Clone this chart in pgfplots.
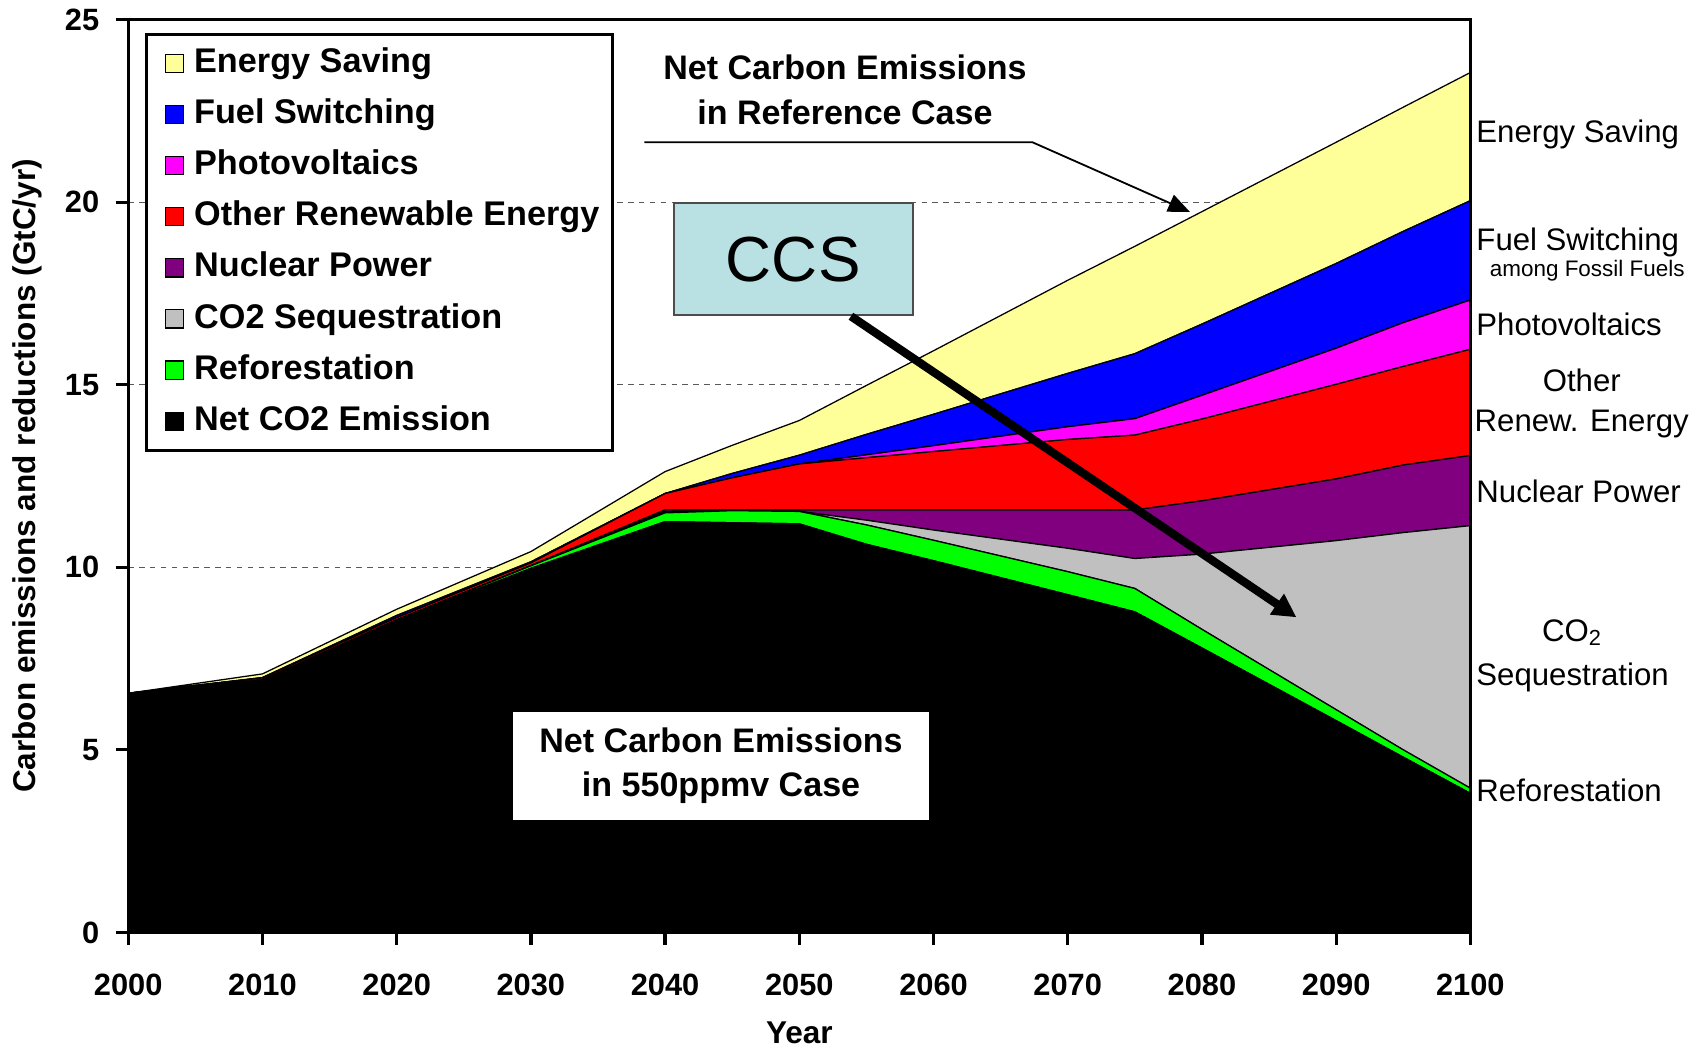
\documentclass[border=0pt]{standalone}
\usepackage{fontspec}
\setmainfont{Liberation Sans}
\usepackage{pgfplots}
\usepackage{pgfplotstable}
\pgfplotsset{compat=1.18}
\usetikzlibrary{arrows.meta}

\definecolor{esave}{RGB}{255,255,153}
\definecolor{fuel}{RGB}{0,0,255}
\definecolor{pv}{RGB}{255,0,255}
\definecolor{ren}{RGB}{255,0,0}
\definecolor{nuc}{RGB}{128,0,128}
\definecolor{seq}{RGB}{192,192,192}
\definecolor{refor}{RGB}{0,255,0}
\definecolor{ccsbox}{RGB}{185,224,227}

% layer thicknesses, GtC/yr, bottom layer first
\pgfplotstableread{
year  black refor seq  nuc  ren  pv   fuel save
2000  6.55  0     0    0    0    0    0    0
2010  6.87  0.01  0    0.04 0.05 0    0.01 0.10
2020  8.53  0.02  0    0.01 0.06 0    0.06 0.17
2030  9.97  0.07  0    0.01 0.07 0    0.03 0.28
2040  11.25 0.24  0.03 0.05 0.45 0    0    0.60
2045  11.22 0.33  0.01 0.01 0.88 0    0.12 0.77
2050  11.19 0.34  0    0.04 1.26 0    0.24 0.95
2055  10.63 0.53  0.13 0.28 1.43 0.08 0.56 1.34
2060  10.18 0.56  0.28 0.55 1.60 0.16 0.86 1.74
2070  9.25  0.63  0.64 1.05 1.93 0.35 1.46 2.55
2075  8.78  0.64  0.82 1.33 2.05 0.45 1.78 2.94
2080  7.79  0.51  2.06 1.46 2.24 0.65 1.95 3.08
2090  5.80  0.30  4.63 1.69 2.59 0.99 2.32 3.32
2095  4.80  0.20  5.95 1.85 2.70 1.20 2.50 3.40
2100  3.81  0.14  7.19 1.92 2.91 1.35 2.72 3.51
}\emissions

\tikzset{
  rlab/.style={font=\fontsize{8.6}{10}\selectfont, anchor=base west, inner sep=0pt},
  layer/.style={draw=black, line width=0.35pt, fill=#1},
}
\pgfplotsset{
  frame/.style={scale only axis, width=370.5pt, height=252pt,
    xmin=2000, xmax=2100, ymin=0, ymax=25},
}

\begin{document}
\begin{tikzpicture}
\begin{axis}[
  name=ax,
  frame,
  xtick={2000,2010,...,2100},
  ytick={0,5,...,25},
  xtick pos=bottom, ytick pos=left,
  stack plots=y,
  clip=false,
  tick align=outside,
  major tick length=3.5pt,
  tick style={black, line width=0.9pt},
  axis line style={line width=0.9pt},
  ymajorgrids,
  grid style={black!65, dash pattern=on 1.5pt off 1.5pt, line width=0.35pt},
  /pgf/number format/assume math mode=true,
  /pgf/number format/1000 sep={},
  ticklabel style={font=\fontsize{8.5}{10}\selectfont\bfseries},
  xticklabel style={yshift=-4.5pt},
  yticklabel style={xshift=-1pt},
  xlabel={Year},
  ylabel={Carbon emissions and reductions (GtC/yr)},
  label style={font=\fontsize{8.7}{10}\selectfont\bfseries},
  xlabel style={at={(axis description cs:0.5,-0.1095)}, anchor=center},
  ylabel style={at={(axis description cs:-0.0753,0.5)}, anchor=center},
  reverse legend,
  legend cell align=left,
  legend image code/.code={\path (0pt,0pt);
    \draw[#1, draw=black, line width=0.3pt] (2.1pt,-2.5pt) rectangle (7.1pt,2.5pt);
    \path (9.3pt,0pt);},
  legend style={at={(0.01215,0.9857)}, anchor=north west, draw=black, line width=0.9pt,
    font=\fontsize{9.45}{11}\selectfont\bfseries, inner xsep=3pt, inner ysep=3pt,
    row sep=3.9pt, column sep=0pt,
    nodes={inner sep=0.6pt, text height=7pt, text depth=2pt}},
]
\addplot[layer=black] table[x=year, y=black] {\emissions} \closedcycle;
\addlegendentry{Net CO2 Emission}
\addplot[layer=refor] table[x=year, y=refor] {\emissions} \closedcycle;
\addlegendentry{Reforestation}
\addplot[layer=seq] table[x=year, y=seq] {\emissions} \closedcycle;
\addlegendentry{CO2 Sequestration}
\addplot[layer=nuc] table[x=year, y=nuc] {\emissions} \closedcycle;
\addlegendentry{Nuclear Power}
\addplot[layer=ren] table[x=year, y=ren] {\emissions} \closedcycle;
\addlegendentry{Other Renewable Energy}
\addplot[layer=pv] table[x=year, y=pv] {\emissions} \closedcycle;
\addlegendentry{Photovoltaics}
\addplot[layer=fuel] table[x=year, y=fuel] {\emissions} \closedcycle;
\addlegendentry{Fuel Switching}
\addplot[layer=esave] table[x=year, y=save] {\emissions} \closedcycle;
\addlegendentry{Energy Saving}
\end{axis}

% overlay axis for the frame and the annotations, drawn above the areas
\begin{axis}[frame, at={(ax.south west)}, anchor=south west, hide axis, clip=false]
\draw[line width=0.9pt] (rel axis cs:0,0) rectangle (rel axis cs:1,1);

% reference case callout
\node[font=\fontsize{9.4}{12.3}\selectfont\bfseries, align=center] at (axis cs:2053.4,23.08)
  {Net Carbon Emissions\\in Reference Case};
\draw[line width=0.5pt, -{Triangle[length=6pt,width=5pt]}]
  (axis cs:2038.46,21.64) -- (axis cs:2067.37,21.64) -- (axis cs:2079.11,19.73);

% CCS box and arrow
\draw[fill=ccsbox, draw=black!70, line width=0.5pt] (axis cs:2040.65,16.9) rectangle (axis cs:2058.46,19.97);
\node[font=\fontsize{17.6}{20}\selectfont] at (axis cs:2049.55,18.42) {CCS};
\draw[line width=2.3pt, -{Triangle[length=6.5pt,width=6.5pt]}]
  (axis cs:2053.85,16.875) -- (axis cs:2087.04,8.63);

% 550 ppmv box
\fill[white] (axis cs:2028.66,3.07) rectangle (axis cs:2059.68,6.04);
\node[font=\fontsize{9.4}{12.3}\selectfont\bfseries, align=center] at (axis cs:2044.17,4.57)
  {Net Carbon Emissions\\in 550ppmv Case};

% labels to the right of the chart
\node[rlab] at (axis cs:2100.4,21.63) {Energy Saving};
\node[rlab] at (axis cs:2100.4,18.68) {Fuel Switching};
\node[rlab, font=\fontsize{6.2}{7}\selectfont] at (axis cs:2101.4,17.96) {among Fossil Fuels};
\node[rlab] at (axis cs:2100.4,16.36) {Photovoltaics};
\node[rlab, anchor=base] at (axis cs:2108.3,14.81) {Other};
\node[rlab, anchor=base] at (axis cs:2108.3,13.71) {Renew. Energy};
\node[rlab] at (axis cs:2100.4,11.78) {Nuclear Power};
\node[rlab, anchor=base] at (axis cs:2107.6,7.97) {CO\textsubscript{2}};
\node[rlab] at (axis cs:2100.4,6.75) {Sequestration};
\node[rlab] at (axis cs:2100.4,3.59) {Reforestation};
\end{axis}
\pgfresetboundingbox
\path ([xshift=-35.4pt,yshift=-32.1pt]ax.south west) rectangle ([xshift=64.5pt,yshift=5.4pt]ax.north east);
\end{tikzpicture}
\end{document}
